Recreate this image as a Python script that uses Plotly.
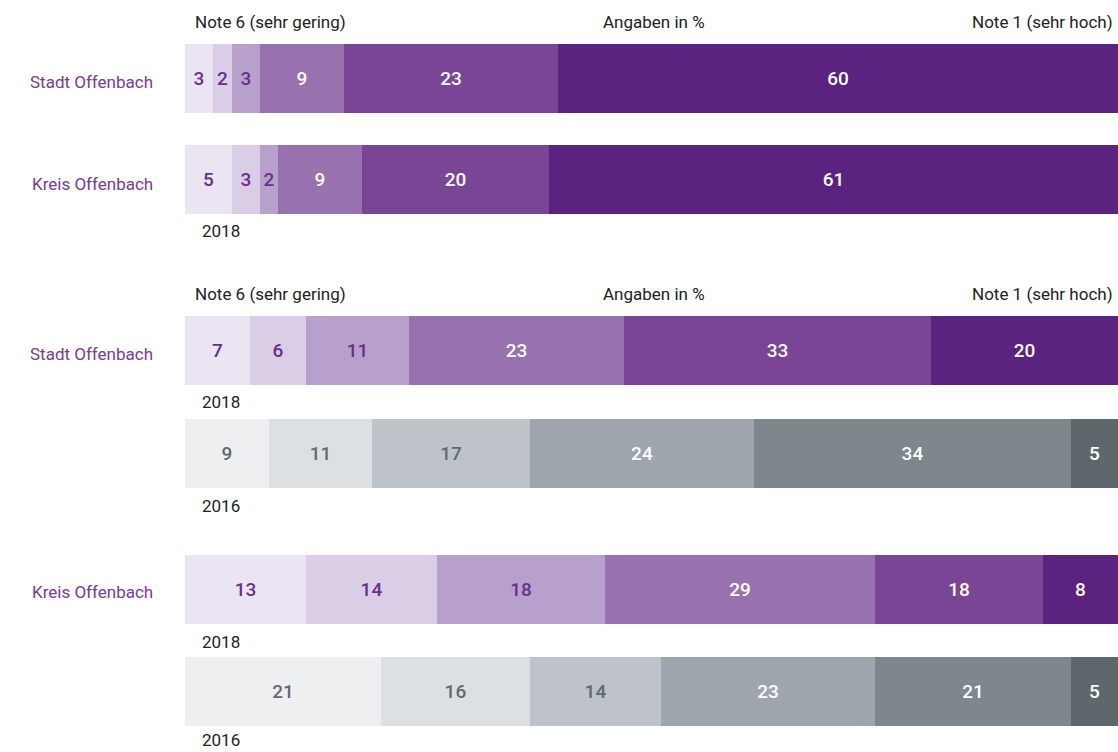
import plotly.graph_objects as go

# ---- data ----
row_names = ["Stadt Offenbach", "Kreis Offenbach", "Stadt Offenbach", "", "Kreis Offenbach", ""]
row_years = ["", "2018", "2018", "2016", "2018", "2016"]
row_palette = ["purple", "purple", "purple", "gray", "purple", "gray"]

note6 = [3, 5, 7, 9, 13, 21]
note5 = [2, 3, 6, 11, 14, 16]
note4 = [3, 2, 11, 17, 18, 14]
note3 = [9, 9, 23, 24, 29, 23]
note2 = [23, 20, 33, 34, 18, 21]
note1 = [60, 61, 20, 5, 8, 5]
series = [note6, note5, note4, note3, note2, note1]

header_left = "Note 6 (sehr gering)"
header_mid = "Angaben in %"
header_right = "Note 1 (sehr hoch)"

# ---- layout / style ----
W, H = 1118, 752
L = 185
row_y = [78.5, 179, 350, 453.5, 589.5, 691.5]   # pixel centers (y axis == pixels)
bar_h = 69
header_y = [22, 294]
label_y = [82, 184, 354, None, 592, None]

colors = {
    "purple": ["#EAE4F3", "#D9CEE6", "#B7A1CC", "#9872AF", "#794594", "#5B2280"],
    "gray": ["#EEEFF1", "#DCE0E3", "#BDC3C9", "#9EA5AC", "#7D878C", "#5E686C"],
}
text_colors = {
    "purple": ["#6B2D8C", "#6B2D8C", "#6B2D8C", "#FFFFFF", "#FFFFFF", "#FFFFFF"],
    "gray": ["#5F6A70", "#5F6A70", "#5F6A70", "#FFFFFF", "#FFFFFF", "#FFFFFF"],
}
FONT = "Roboto"

fig = go.Figure()
for i, vals in enumerate(series):
    fig.add_trace(go.Bar(
        x=vals, y=row_y, orientation="h", width=bar_h,
        marker=dict(color=[colors[p][i] for p in row_palette], line=dict(width=0)),
        text=[str(v) for v in vals], textposition="inside", insidetextanchor="middle",
        textangle=0, constraintext="none",
        textfont=dict(family=FONT, size=19, weight=500,
                      color=[text_colors[p][i] for p in row_palette]),
        hoverinfo="skip", showlegend=False,
    ))

ann = []
hfont = dict(family=FONT, size=17, color="#222222")
for hy in header_y:
    ann.append(dict(x=0.86, y=hy, xref="x", yref="y", text=header_left, showarrow=False,
                    xanchor="left", yanchor="middle", font=hfont))
    ann.append(dict(x=50.3, y=hy, xref="x", yref="y", text=header_mid, showarrow=False,
                    xanchor="center", yanchor="middle", font=hfont))
    ann.append(dict(x=99.7, y=hy, xref="x", yref="y", text=header_right, showarrow=False,
                    xanchor="right", yanchor="middle", font=hfont))

for name, ly in zip(row_names, label_y):
    if name:
        ann.append(dict(x=(155 - L) / (W - L), y=ly, xref="paper", yref="y", text=name,
                        showarrow=False, xanchor="right", yanchor="middle",
                        font=dict(family=FONT, size=17, color="#7A3A97")))

for yr, cy in zip(row_years, row_y):
    if yr:
        ann.append(dict(x=1.6, y=min(cy + bar_h / 2 + 17.5, 740), xref="x", yref="y", text=yr,
                        showarrow=False, xanchor="left", yanchor="middle", font=hfont))

fig.update_layout(
    width=W, height=H, barmode="stack", bargap=0,
    margin=dict(l=L, r=0, t=0, b=0),
    paper_bgcolor="white", plot_bgcolor="white",
    xaxis=dict(range=[0, 100], visible=False, fixedrange=True),
    yaxis=dict(range=[H, 0], visible=False, fixedrange=True),
    annotations=ann,
)
fig.write_html("out.html", config=dict(displayModeBar=False),
               post_script="document.body.style.margin='0';document.body.style.overflow='hidden';")
